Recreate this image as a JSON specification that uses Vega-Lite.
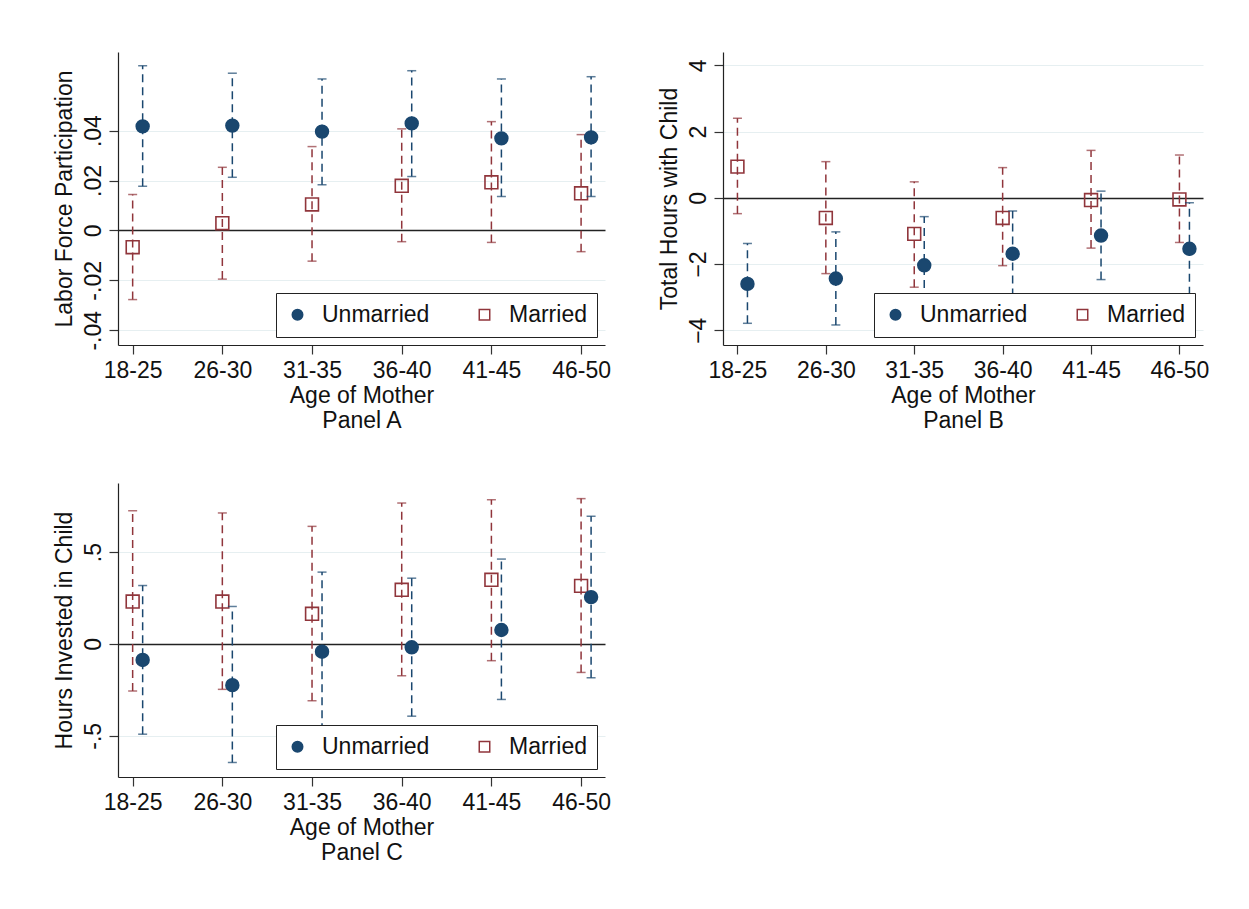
{
  "$schema": "https://vega.github.io/schema/vega-lite/v6.json",
  "background": "white",
  "padding": {"left": 52, "top": 52, "right": 0, "bottom": 0},
  "config": {
    "font": "Liberation Sans",
    "view": {"stroke": null},
    "axis": {
      "domainColor": "#222", "domainWidth": 1.2,
      "tickColor": "#333", "tickWidth": 1.2, "tickSize": 9,
      "labelFontSize": 23, "labelColor": "#111", "titleFontSize": 23,
      "titleFontWeight": "normal", "titleColor": "#111"
    },
    "axisX": {"labelAngle": 0, "labelPadding": 5, "grid": false, "titlePadding": 2, "titleLineHeight": 25},
    "axisY": {"labelAngle": 270, "labelPadding": 4, "titlePadding": 6,
      "grid": true,
      "gridColor": {"condition": {"test": "datum.value === 0", "value": "#222"}, "value": "#e6eff1"},
      "gridWidth": {"condition": {"test": "datum.value === 0", "value": 1.6}, "value": 1.2}
    },
    "legend": {"title": null, "orient": "bottom-right", "direction": "horizontal", "offset": 8, "padding": 10, "fillColor": "white", "strokeColor": "#222", "labelFontSize": 23, "labelColor": "#111", "symbolSize": 110, "symbolStrokeWidth": 1.5, "columnPadding": 43, "labelOffset": 13, "zindex": 1}
  },
  "datasets": {
    "est": [
      {"panel": "A", "age": "18-25", "group": "Unmarried", "est": 0.0417, "lo": 0.0177, "hi": 0.066},
      {"panel": "A", "age": "26-30", "group": "Unmarried", "est": 0.042, "lo": 0.0213, "hi": 0.063},
      {"panel": "A", "age": "31-35", "group": "Unmarried", "est": 0.0396, "lo": 0.0183, "hi": 0.0607},
      {"panel": "A", "age": "36-40", "group": "Unmarried", "est": 0.0429, "lo": 0.0216, "hi": 0.064},
      {"panel": "A", "age": "41-45", "group": "Unmarried", "est": 0.0369, "lo": 0.0136, "hi": 0.0607},
      {"panel": "A", "age": "46-50", "group": "Unmarried", "est": 0.0373, "lo": 0.0136, "hi": 0.0616},
      {"panel": "A", "age": "18-25", "group": "Married", "est": -0.0067, "lo": -0.0277, "hi": 0.0144},
      {"panel": "A", "age": "26-30", "group": "Married", "est": 0.0029, "lo": -0.0195, "hi": 0.0253},
      {"panel": "A", "age": "31-35", "group": "Married", "est": 0.0104, "lo": -0.0123, "hi": 0.0336},
      {"panel": "A", "age": "36-40", "group": "Married", "est": 0.0179, "lo": -0.0045, "hi": 0.0407},
      {"panel": "A", "age": "41-45", "group": "Married", "est": 0.0193, "lo": -0.0048, "hi": 0.0436},
      {"panel": "A", "age": "46-50", "group": "Married", "est": 0.0149, "lo": -0.0085, "hi": 0.0384},
      {"panel": "B", "age": "18-25", "group": "Unmarried", "est": -2.60, "lo": -3.79, "hi": -1.38},
      {"panel": "B", "age": "26-30", "group": "Unmarried", "est": -2.44, "lo": -3.84, "hi": -1.03},
      {"panel": "B", "age": "31-35", "group": "Unmarried", "est": -2.04, "lo": -3.51, "hi": -0.57},
      {"panel": "B", "age": "36-40", "group": "Unmarried", "est": -1.69, "lo": -2.98, "hi": -0.40},
      {"panel": "B", "age": "41-45", "group": "Unmarried", "est": -1.14, "lo": -2.47, "hi": 0.20},
      {"panel": "B", "age": "46-50", "group": "Unmarried", "est": -1.54, "lo": -2.93, "hi": -0.15},
      {"panel": "B", "age": "18-25", "group": "Married", "est": 0.94, "lo": -0.48, "hi": 2.40},
      {"panel": "B", "age": "26-30", "group": "Married", "est": -0.61, "lo": -2.29, "hi": 1.09},
      {"panel": "B", "age": "31-35", "group": "Married", "est": -1.09, "lo": -2.70, "hi": 0.48},
      {"panel": "B", "age": "36-40", "group": "Married", "est": -0.61, "lo": -2.05, "hi": 0.91},
      {"panel": "B", "age": "41-45", "group": "Married", "est": -0.07, "lo": -1.52, "hi": 1.43},
      {"panel": "B", "age": "46-50", "group": "Married", "est": -0.05, "lo": -1.35, "hi": 1.29},
      {"panel": "C", "age": "18-25", "group": "Unmarried", "est": -0.087, "lo": -0.491, "hi": 0.318},
      {"panel": "C", "age": "26-30", "group": "Unmarried", "est": -0.224, "lo": -0.645, "hi": 0.204},
      {"panel": "C", "age": "31-35", "group": "Unmarried", "est": -0.042, "lo": -0.475, "hi": 0.391},
      {"panel": "C", "age": "36-40", "group": "Unmarried", "est": -0.018, "lo": -0.393, "hi": 0.358},
      {"panel": "C", "age": "41-45", "group": "Unmarried", "est": 0.076, "lo": -0.302, "hi": 0.462},
      {"panel": "C", "age": "46-50", "group": "Unmarried", "est": 0.255, "lo": -0.184, "hi": 0.695},
      {"panel": "C", "age": "18-25", "group": "Married", "est": 0.231, "lo": -0.256, "hi": 0.725},
      {"panel": "C", "age": "26-30", "group": "Married", "est": 0.231, "lo": -0.247, "hi": 0.713},
      {"panel": "C", "age": "31-35", "group": "Married", "est": 0.164, "lo": -0.309, "hi": 0.64},
      {"panel": "C", "age": "36-40", "group": "Married", "est": 0.295, "lo": -0.173, "hi": 0.767},
      {"panel": "C", "age": "41-45", "group": "Married", "est": 0.349, "lo": -0.091, "hi": 0.785},
      {"panel": "C", "age": "46-50", "group": "Married", "est": 0.316, "lo": -0.155, "hi": 0.791}
    ]
  },
  "resolve": {"scale": {"fill": "independent", "stroke": "independent", "shape": "independent", "color": "independent"}},
  "spacing": 51,
  "vconcat": [
    {
      "resolve": {"scale": {"fill": "independent", "stroke": "independent", "shape": "independent", "color": "independent"}},
      "spacing": 47,
      "hconcat": [
        {
          "width": 487, "height": 293,
          "data": {"name": "est"},
          "transform": [{"filter": "datum.panel == 'A'"}],
          "encoding": {
            "x": {"field": "age", "type": "ordinal", "sort": null, "scale": {"type": "point", "padding": 0.215, "align": 0.38}, "axis": {"title": ["Age of Mother", "Panel A"]}},
            "y": {"field": "est", "type": "quantitative", "scale": {"domain": [-0.0459, 0.0715], "nice": false, "zero": false}, "axis": {"title": "Labor Force Participation", "values": [-0.04, -0.02, 0, 0.02, 0.04], "labelExpr": "replace(toString(datum.value), '0.', '.')"}}
          },
          "layer": [
            {
              "transform": [{"filter": "datum.group == 'Married'"}],
              "layer": [
                {"mark": {"type": "rule", "strokeDash": [8, 5], "strokeWidth": 1.5}, "encoding": {"y": {"field": "lo", "type": "quantitative"}, "y2": {"field": "hi"}, "stroke": {"field": "group", "scale": {"domain": ["Unmarried", "Married"], "range": ["#1a476f", "#90353b"]}}}},
                {"mark": {"type": "tick", "orient": "horizontal", "size": 9, "thickness": 1.5}, "encoding": {"y": {"field": "lo", "type": "quantitative"}, "color": {"field": "group", "scale": {"domain": ["Married", "Unmarried"], "range": ["#90353b", "#1a476f"]}, "legend": null}}},
                {"mark": {"type": "tick", "orient": "horizontal", "size": 9, "thickness": 1.5}, "encoding": {"y": {"field": "hi", "type": "quantitative"}, "color": {"field": "group", "legend": null}}},
                {"mark": {"type": "point", "size": 165, "strokeWidth": 1.6, "opacity": 1}, "encoding": {
                  "stroke": {"field": "group"},
                  "fill": {"field": "group", "scale": {"domain": ["Unmarried", "Married"], "range": ["#1a476f", "transparent"]}},
                  "shape": {"field": "group", "scale": {"domain": ["Unmarried", "Married"], "range": ["circle", "square"]}}}}
              ]
            },
            {
              "transform": [{"filter": "datum.group == 'Unmarried'"}],
              "layer": [
                {"mark": {"type": "rule", "strokeDash": [8, 5], "strokeWidth": 1.5, "xOffset": 10}, "encoding": {"y": {"field": "lo", "type": "quantitative"}, "y2": {"field": "hi"}, "stroke": {"field": "group"}}},
                {"mark": {"type": "tick", "orient": "horizontal", "size": 9, "thickness": 1.5, "xOffset": 10}, "encoding": {"y": {"field": "lo", "type": "quantitative"}, "color": {"field": "group", "legend": null}}},
                {"mark": {"type": "tick", "orient": "horizontal", "size": 9, "thickness": 1.5, "xOffset": 10}, "encoding": {"y": {"field": "hi", "type": "quantitative"}, "color": {"field": "group", "legend": null}}},
                {"mark": {"type": "point", "size": 165, "strokeWidth": 1.6, "opacity": 1, "xOffset": 10}, "encoding": {"stroke": {"field": "group"}, "fill": {"field": "group"}, "shape": {"field": "group"}}}
              ]
            }
          ]
        },
        {
          "width": 480, "height": 293,
          "data": {"name": "est"},
          "transform": [{"filter": "datum.panel == 'B'"}],
          "encoding": {
            "x": {"field": "age", "type": "ordinal", "sort": null, "scale": {"type": "point", "padding": 0.215, "align": 0.38}, "axis": {"title": ["Age of Mother", "Panel B"]}},
            "y": {"field": "est", "type": "quantitative", "scale": {"domain": [-4.445, 4.40], "nice": false, "zero": false}, "axis": {"title": "Total Hours with Child", "values": [-4, -2, 0, 2, 4]}}
          },
          "layer": [
            {
              "transform": [{"filter": "datum.group == 'Married'"}],
              "layer": [
                {"mark": {"type": "rule", "strokeDash": [8, 5], "strokeWidth": 1.5}, "encoding": {"y": {"field": "lo", "type": "quantitative"}, "y2": {"field": "hi"}, "stroke": {"field": "group", "scale": {"domain": ["Unmarried", "Married"], "range": ["#1a476f", "#90353b"]}}}},
                {"mark": {"type": "tick", "orient": "horizontal", "size": 9, "thickness": 1.5}, "encoding": {"y": {"field": "lo", "type": "quantitative"}, "color": {"field": "group", "scale": {"domain": ["Married", "Unmarried"], "range": ["#90353b", "#1a476f"]}, "legend": null}}},
                {"mark": {"type": "tick", "orient": "horizontal", "size": 9, "thickness": 1.5}, "encoding": {"y": {"field": "hi", "type": "quantitative"}, "color": {"field": "group", "legend": null}}},
                {"mark": {"type": "point", "size": 165, "strokeWidth": 1.6, "opacity": 1}, "encoding": {
                  "stroke": {"field": "group"},
                  "fill": {"field": "group", "scale": {"domain": ["Unmarried", "Married"], "range": ["#1a476f", "transparent"]}},
                  "shape": {"field": "group", "scale": {"domain": ["Unmarried", "Married"], "range": ["circle", "square"]}}}}
              ]
            },
            {
              "transform": [{"filter": "datum.group == 'Unmarried'"}],
              "layer": [
                {"mark": {"type": "rule", "strokeDash": [8, 5], "strokeWidth": 1.5, "xOffset": 10}, "encoding": {"y": {"field": "lo", "type": "quantitative"}, "y2": {"field": "hi"}, "stroke": {"field": "group"}}},
                {"mark": {"type": "tick", "orient": "horizontal", "size": 9, "thickness": 1.5, "xOffset": 10}, "encoding": {"y": {"field": "lo", "type": "quantitative"}, "color": {"field": "group", "legend": null}}},
                {"mark": {"type": "tick", "orient": "horizontal", "size": 9, "thickness": 1.5, "xOffset": 10}, "encoding": {"y": {"field": "hi", "type": "quantitative"}, "color": {"field": "group", "legend": null}}},
                {"mark": {"type": "point", "size": 165, "strokeWidth": 1.6, "opacity": 1, "xOffset": 10}, "encoding": {"stroke": {"field": "group"}, "fill": {"field": "group"}, "shape": {"field": "group"}}}
              ]
            }
          ]
        }
      ]
    },
    {
      "width": 487, "height": 294,
      "data": {"name": "est"},
      "transform": [{"filter": "datum.panel == 'C'"}],
      "encoding": {
        "x": {"field": "age", "type": "ordinal", "sort": null, "scale": {"type": "point", "padding": 0.215, "align": 0.38}, "axis": {"title": ["Age of Mother", "Panel C"]}},
        "y": {"field": "est", "type": "quantitative", "scale": {"domain": [-0.724, 0.876], "nice": false, "zero": false}, "axis": {"title": "Hours Invested in Child", "values": [-0.5, 0, 0.5], "labelExpr": "replace(toString(datum.value), '0.', '.')"}}
      },
      "layer": [
        {
          "transform": [{"filter": "datum.group == 'Married'"}],
          "layer": [
            {"mark": {"type": "rule", "strokeDash": [8, 5], "strokeWidth": 1.5}, "encoding": {"y": {"field": "lo", "type": "quantitative"}, "y2": {"field": "hi"}, "stroke": {"field": "group", "scale": {"domain": ["Unmarried", "Married"], "range": ["#1a476f", "#90353b"]}}}},
            {"mark": {"type": "tick", "orient": "horizontal", "size": 9, "thickness": 1.5}, "encoding": {"y": {"field": "lo", "type": "quantitative"}, "color": {"field": "group", "scale": {"domain": ["Married", "Unmarried"], "range": ["#90353b", "#1a476f"]}, "legend": null}}},
            {"mark": {"type": "tick", "orient": "horizontal", "size": 9, "thickness": 1.5}, "encoding": {"y": {"field": "hi", "type": "quantitative"}, "color": {"field": "group", "legend": null}}},
            {"mark": {"type": "point", "size": 165, "strokeWidth": 1.6, "opacity": 1}, "encoding": {
              "stroke": {"field": "group"},
              "fill": {"field": "group", "scale": {"domain": ["Unmarried", "Married"], "range": ["#1a476f", "transparent"]}},
              "shape": {"field": "group", "scale": {"domain": ["Unmarried", "Married"], "range": ["circle", "square"]}}}}
          ]
        },
        {
          "transform": [{"filter": "datum.group == 'Unmarried'"}],
          "layer": [
            {"mark": {"type": "rule", "strokeDash": [8, 5], "strokeWidth": 1.5, "xOffset": 10}, "encoding": {"y": {"field": "lo", "type": "quantitative"}, "y2": {"field": "hi"}, "stroke": {"field": "group"}}},
            {"mark": {"type": "tick", "orient": "horizontal", "size": 9, "thickness": 1.5, "xOffset": 10}, "encoding": {"y": {"field": "lo", "type": "quantitative"}, "color": {"field": "group", "legend": null}}},
            {"mark": {"type": "tick", "orient": "horizontal", "size": 9, "thickness": 1.5, "xOffset": 10}, "encoding": {"y": {"field": "hi", "type": "quantitative"}, "color": {"field": "group", "legend": null}}},
            {"mark": {"type": "point", "size": 165, "strokeWidth": 1.6, "opacity": 1, "xOffset": 10}, "encoding": {"stroke": {"field": "group"}, "fill": {"field": "group"}, "shape": {"field": "group"}}}
          ]
        }
      ]
    }
  ]
}
